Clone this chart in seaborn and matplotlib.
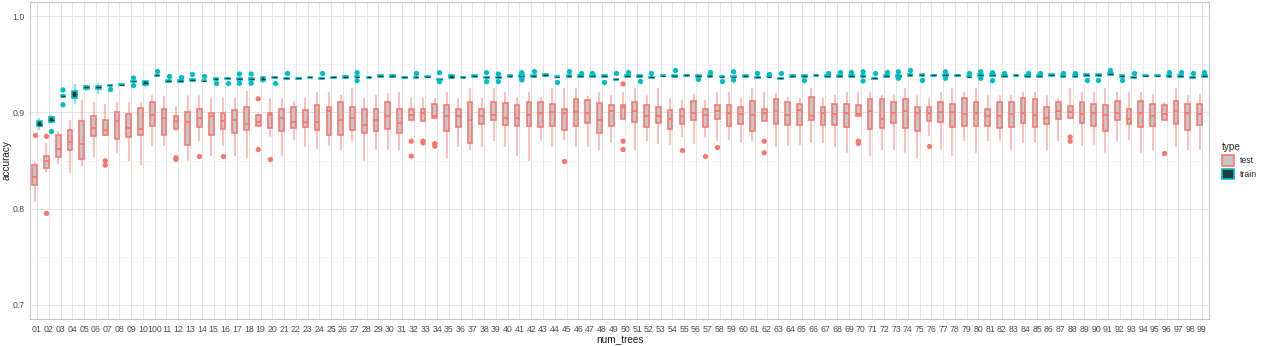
import numpy as np
import pandas as pd
import matplotlib
matplotlib.use("Agg")
import matplotlib.pyplot as plt
import seaborn as sns
from matplotlib.patches import Patch

# categories: num_trees stored as zero-padded strings, ordered lexicographically
num_trees = sorted(f"{n:02d}" for n in range(1, 101))
types = ["test", "train"]

test_lo = [.8070, .8380, .8459, .8366, .8442, .8538, .8755, .8573, .8497, .8452,
           .8648, .8648, .8804, .8497, .8700, .8552, .8655, .8545, .8528, .8855,
           .8745, .8545, .8717, .8642, .8621, .8649, .8614, .8700, .8494, .8614,
           .8614, .8614, .8918, .8911, .8942, .8528, .8642, .8614, .8642, .8701,
           .8642, .8546, .8494, .8701, .8642, .8718, .8642, .8642, .8614, .8683,
           .8935, .8614, .8701, .8676, .8666, .8745, .8676, .8745, .8701, .8718,
           .8683, .8701, .8911, .8642, .8649, .8666, .8683, .8683, .8642, .8580,
           .8963, .8546, .8614, .8614, .8580, .8528, .8752, .8614, .8546, .8701,
           .8580, .8701, .8701, .8614, .8683, .8683, .8614, .8701, .8942, .8656,
           .8666, .8580, .8701, .8711, .8580, .8614, .8921, .8642, .8614, .8614]
test_q1 = [.8249, .8425, .8535, .8607, .8518, .8759, .8762, .8724, .8742, .8769,
           .8855, .8769, .8828, .8666, .8849, .8762, .8828, .8786, .8814, .8862,
           .8838, .8811, .8838, .8849, .8814, .8769, .8766, .8814, .8787, .8804,
           .8828, .8787, .8918, .8911, .8942, .8811, .8845, .8683, .8880, .8918,
           .8873, .8856, .8856, .8845, .8863, .8821, .8863, .8890, .8787, .8863,
           .8935, .8900, .8845, .8890, .8832, .8883, .8921, .8849, .8928, .8856,
           .8880, .8804, .8911, .8883, .8873, .8866, .8918, .8873, .8866, .8845,
           .8963, .8825, .8835, .8890, .8835, .8811, .8911, .8904, .8852, .8856,
           .8856, .8856, .8835, .8845, .8890, .8852, .8880, .8935, .8942, .8890,
           .8863, .8804, .8921, .8880, .8852, .8856, .8921, .8880, .8814, .8873]
test_med = [.8332, .8494, .8621, .8690, .8676, .8842, .8821, .8907, .8838, .8828,
            .8976, .8938, .8907, .8897, .8942, .8966, .8907, .8917, .8883, .8897,
            .8976, .8938, .8897, .8900, .8900, .9011, .8918, .8942, .8873, .8925,
            .8959, .8890, .8973, .8997, .8959, .8959, .8959, .8925, .8959, .8973,
            .8942, .8942, .8973, .8997, .9001, .8997, .9001, .8997, .8925, .9014,
            .9056, .9014, .8959, .8959, .8932, .8959, .8997, .8973, .9014, .8997,
            .8980, .8973, .8997, .9014, .8973, .9021, .8959, .8997, .8980, .8997,
            .8980, .9014, .8935, .8997, .9014, .8997, .8997, .9004, .9004, .8980,
            .8997, .8963, .8963, .8980, .8997, .8973, .8942, .9014, .9004, .8980,
            .8997, .8973, .8997, .8935, .8997, .8963, .8980, .9014, .8997, .8980]
test_q3 = [.8449, .8552, .8766, .8821, .8907, .8959, .8917, .9000, .8983, .9045,
           .9104, .9035, .8966, .9007, .9035, .8993, .8993, .9028, .9062, .8976,
           .8993, .9035, .9062, .9021, .9080, .9062, .9114, .9059, .9031, .9031,
           .9114, .9031, .9031, .9038, .9087, .9080, .9031, .9114, .9031, .9114,
           .9097, .9080, .9104, .9104, .9087, .9031, .9142, .9132, .9097, .9076,
           .9076, .9107, .9076, .9056, .9025, .9031, .9124, .9038, .9080, .9076,
           .9059, .9124, .9038, .9139, .9104, .9087, .9159, .9062, .9087, .9087,
           .9076, .9142, .9142, .9114, .9142, .9059, .9062, .9114, .9090, .9149,
           .9107, .9038, .9114, .9104, .9149, .9142, .9062, .9114, .9069, .9114,
           .9090, .9080, .9124, .9031, .9124, .9090, .9076, .9124, .9090, .9090]
test_hi = [.8483, .8683, .8804, .8924, .9131, .9114, .9090, .9104, .9114, .9114,
           .9183, .9173, .9069, .9183, .9183, .9148, .9148, .9148, .9228, .8993,
           .9148, .9148, .9124, .9149, .9218, .9218, .9183, .9259, .9149, .9183,
           .9201, .9218, .9149, .9149, .9149, .9218, .9149, .9252, .9149, .9252,
           .9218, .9166, .9218, .9166, .9252, .9252, .9252, .9173, .9218, .9183,
           .9218, .9252, .9183, .9252, .9149, .9132, .9190, .9125, .9218, .9218,
           .9149, .9252, .9218, .9201, .9166, .9149, .9252, .9149, .9183, .9218,
           .9218, .9218, .9183, .9183, .9252, .9183, .9149, .9218, .9252, .9218,
           .9252, .9183, .9183, .9183, .9218, .9218, .9183, .9149, .9252, .9218,
           .9218, .9252, .9218, .9218, .9218, .9190, .9114, .9252, .9183, .9190]

train_lo = [.8814, .8883, .9150, .9090, .9221, .9194, .9273, .9278, .9313, .9266,
            .9374, .9316, .9316, .9326, .9319, .9336, .9343, .9336, .9336, .9311,
            .9353, .9343, .9343, .9354, .9344, .9354, .9345, .9361, .9354, .9367,
            .9367, .9354, .9354, .9361, .9331, .9350, .9354, .9367, .9354, .9354,
            .9367, .9367, .9367, .9378, .9361, .9367, .9367, .9367, .9367, .9333,
            .9367, .9367, .9354, .9371, .9367, .9374, .9367, .9367, .9361, .9361,
            .9367, .9354, .9361, .9344, .9366, .9367, .9374, .9367, .9367, .9367,
            .9367, .9344, .9367, .9367, .9378, .9378, .9374, .9378, .9374, .9361,
            .9378, .9378, .9367, .9374, .9367, .9367, .9378, .9367, .9367, .9378,
            .9378, .9388, .9367, .9354, .9371, .9371, .9367, .9367, .9354, .9367]
train_q1 = [.8855, .8897, .9163, .9152, .9245, .9242, .9279, .9284, .9319, .9290,
            .9380, .9322, .9322, .9332, .9325, .9342, .9349, .9342, .9342, .9332,
            .9359, .9349, .9349, .9360, .9350, .9360, .9356, .9367, .9360, .9373,
            .9373, .9360, .9360, .9367, .9338, .9356, .9360, .9373, .9360, .9360,
            .9373, .9373, .9373, .9384, .9367, .9373, .9373, .9373, .9373, .9339,
            .9373, .9373, .9360, .9377, .9373, .9380, .9373, .9373, .9367, .9367,
            .9373, .9360, .9367, .9350, .9373, .9373, .9380, .9373, .9373, .9373,
            .9373, .9350, .9373, .9373, .9384, .9384, .9380, .9384, .9380, .9367,
            .9384, .9384, .9373, .9380, .9373, .9373, .9384, .9373, .9373, .9384,
            .9384, .9394, .9373, .9360, .9377, .9377, .9373, .9373, .9360, .9373]
train_med = [.8873, .8917, .9170, .9194, .9266, .9263, .9285, .9290, .9325, .9310,
             .9386, .9328, .9328, .9338, .9331, .9348, .9355, .9348, .9348, .9349,
             .9365, .9355, .9355, .9366, .9356, .9366, .9366, .9373, .9366, .9379,
             .9379, .9366, .9366, .9373, .9345, .9373, .9366, .9379, .9366, .9366,
             .9379, .9379, .9379, .9390, .9373, .9379, .9379, .9379, .9379, .9345,
             .9379, .9379, .9366, .9383, .9379, .9386, .9379, .9379, .9373, .9373,
             .9379, .9366, .9373, .9356, .9379, .9379, .9386, .9379, .9379, .9379,
             .9379, .9356, .9379, .9379, .9390, .9390, .9386, .9390, .9386, .9373,
             .9390, .9390, .9379, .9386, .9379, .9379, .9390, .9379, .9379, .9390,
             .9390, .9400, .9379, .9366, .9383, .9383, .9379, .9379, .9366, .9379]
train_q3 = [.8907, .8952, .9180, .9221, .9276, .9276, .9291, .9296, .9331, .9325,
            .9392, .9334, .9334, .9344, .9337, .9354, .9361, .9354, .9354, .9366,
            .9371, .9361, .9361, .9372, .9362, .9372, .9376, .9379, .9372, .9385,
            .9385, .9372, .9372, .9379, .9352, .9390, .9372, .9385, .9372, .9372,
            .9385, .9385, .9385, .9396, .9379, .9385, .9385, .9385, .9385, .9351,
            .9385, .9385, .9372, .9389, .9385, .9392, .9385, .9385, .9379, .9379,
            .9385, .9372, .9379, .9362, .9386, .9385, .9392, .9385, .9385, .9385,
            .9385, .9362, .9385, .9385, .9396, .9396, .9392, .9396, .9392, .9379,
            .9396, .9396, .9385, .9392, .9385, .9385, .9396, .9385, .9385, .9396,
            .9396, .9406, .9385, .9372, .9389, .9389, .9385, .9385, .9372, .9385]
train_hi = [.8942, .8976, .9190, .9297, .9290, .9307, .9297, .9302, .9337, .9339,
            .9398, .9340, .9340, .9350, .9343, .9360, .9367, .9360, .9360, .9383,
            .9377, .9367, .9367, .9378, .9368, .9378, .9390, .9385, .9378, .9391,
            .9391, .9378, .9378, .9385, .9359, .9396, .9378, .9391, .9378, .9378,
            .9391, .9391, .9391, .9402, .9385, .9391, .9391, .9391, .9391, .9357,
            .9391, .9391, .9378, .9395, .9391, .9398, .9391, .9391, .9385, .9385,
            .9391, .9378, .9385, .9368, .9393, .9391, .9398, .9391, .9391, .9391,
            .9391, .9368, .9391, .9391, .9402, .9402, .9398, .9402, .9398, .9385,
            .9402, .9402, .9391, .9398, .9391, .9391, .9402, .9391, .9391, .9402,
            .9402, .9412, .9391, .9378, .9395, .9395, .9391, .9391, .9378, .9391]

test_out_cat = ["01", "02", "02", "07", "07", "12", "12", "14", "16", "19", "19", "20",
                "32", "32", "33", "33", "34", "34", "45", "50", "50", "50", "55", "57",
                "58", "62", "62", "70", "70", "76", "88", "88", "96"]
test_out_acc = [.8766, .8752, .7949, .8497, .8452, .8528, .8511, .8545, .8545, .9142, .8614, .8511,
                .8701, .8546, .8701, .8683, .8676, .8649, .8494, .9297, .8701, .8614, .8614, .8546,
                .8642, .8701, .8580, .8701, .8676, .8656, .8745, .8701, .8573]

train_out_cat = ["02", "03", "03", "07", "09", "09", "100", "11", "12", "13", "14", "15", "16",
                 "17", "17", "18", "18", "20", "21", "24", "27", "27", "32", "34", "34",
                 "38", "38", "39", "39", "41", "41", "41", "41", "42", "44", "45", "46", "47",
                 "48", "49", "50", "51", "52", "54", "56", "57", "58", "59", "59", "61", "62",
                 "63", "65", "67", "68", "69", "70", "70", "71", "72", "73", "73", "74", "75",
                 "77", "77", "79", "80", "80", "81", "81", "82", "84", "85", "87", "88", "89",
                 "90", "91", "92", "93", "96", "97", "98", "99"]
train_out_acc = [.8804, .9235, .9080, .9245, .9359, .9280, .9428, .9383, .9365, .9403, .9383, .9304, .9311,
                 .9400, .9304, .9400, .9304, .9304, .9407, .9411, .9414, .9331, .9414, .9414, .9321,
                 .9414, .9321, .9400, .9321, .9414, .9400, .9345, .9338, .9435, .9321, .9435, .9414, .9414,
                 .9321, .9414, .9424, .9331, .9414, .9442, .9345, .9424, .9331, .9424, .9338, .9414, .9400,
                 .9407, .9338, .9414, .9424, .9424, .9424, .9328, .9407, .9424, .9424, .9356, .9442, .9338,
                 .9424, .9356, .9414, .9424, .9356, .9414, .9331, .9414, .9414, .9414, .9414, .9414, .9338,
                 .9338, .9442, .9338, .9414, .9424, .9424, .9414, .9424]

# ---- tidy frames ----
stats = {"test": (test_lo, test_q1, test_med, test_q3, test_hi),
         "train": (train_lo, train_q1, train_med, train_q3, train_hi)}
rows = []
for t in types:
    for arr in stats[t]:
        for c, v in zip(num_trees, arr):
            rows.append((c, t, v))
df = pd.DataFrame(rows, columns=["num_trees", "type", "accuracy"])
out_df = pd.DataFrame(
    [(c, "test", v) for c, v in zip(test_out_cat, test_out_acc)] +
    [(c, "train", v) for c, v in zip(train_out_cat, train_out_acc)],
    columns=["num_trees", "type", "accuracy"])

# ---- styling ----
sns.set_theme(style="white")
plt.rcParams["font.family"] = ["Liberation Sans", "DejaVu Sans"]

edge = {"test": "#F8766D", "train": "#00BFC4"}
fill = {"test": "#C6C6C6", "train": "#1E3C3D"}
median_col = {"test": "#F8766D", "train": "#123E40"}
median_lw = {"test": 1.3, "train": 0.8}

W, H = 1266, 346
fig = plt.figure(figsize=(W / 100, H / 100), dpi=100)
ax = fig.add_axes([30 / W, 1 - 319 / H, (1209 - 30) / W, (319 - 2) / H])

for t in types:
    sub = df[df["type"] == t]
    sns.boxplot(data=sub, x="num_trees", y="accuracy", hue="type",
                order=num_trees, hue_order=types, dodge=True, width=0.8, gap=0,
                whis=(0, 100), showfliers=False, palette=fill,
                linecolor=edge[t], linewidth=1.15, legend=False, ax=ax,
                whiskerprops=dict(color=edge[t], alpha=0.55, linewidth=1.2),
                capprops=dict(visible=False),
                medianprops=dict(color=median_col[t], linewidth=median_lw[t]),
                boxprops=dict(edgecolor=edge[t]))

sns.stripplot(data=out_df, x="num_trees", y="accuracy", hue="type",
              order=num_trees, hue_order=types, dodge=True, jitter=False,
              palette=edge, size=3.8, linewidth=0, legend=False, ax=ax)

# axes limits / ticks
ax.set_xlim(-0.6, len(num_trees) - 0.4)
ax.set_ylim(0.685, 1.015)
ax.set_xticks(range(len(num_trees)))
ax.set_xticklabels(num_trees)
ax.set_yticks([0.7, 0.8, 0.9, 1.0])
ax.set_yticklabels(["0.7", "0.8", "0.9", "1.0"])
ax.set_yticks([0.75, 0.85, 0.95], minor=True)
ax.tick_params(axis="both", which="major", labelsize=6.3, colors="#4D4D4D",
               length=2.5, width=0.6, pad=1.5)
ax.tick_params(axis="both", which="minor", length=0)
for lab in ax.get_xticklabels() + ax.get_yticklabels():
    lab.set_color("#4D4D4D")

ax.set_axisbelow(True)
ax.grid(True, which="major", color="#E3E3E3", linewidth=0.7)
ax.grid(True, which="minor", axis="y", color="#F2F2F2", linewidth=0.5)
for s in ax.spines.values():
    s.set_visible(True)
    s.set_color("#B8B8B8")
    s.set_linewidth(0.6)

ax.set_xlabel("num_trees", fontsize=7.2, color="#1A1A1A", labelpad=1)
ax.set_ylabel("accuracy", fontsize=7.2, color="#1A1A1A")
ax.yaxis.set_label_coords(-(30 - 12) / 1179, 0.5)

handles = [Patch(facecolor=fill[t], edgecolor=edge[t], linewidth=1.2, label=t) for t in types]
leg = ax.legend(handles=handles, title="type", loc="center left",
                bbox_to_anchor=(1.008, 0.5), frameon=False, fontsize=6.3,
                title_fontsize=7.2, handlelength=1.4, handleheight=1.4,
                handletextpad=0.6, labelspacing=0.35, borderaxespad=0)
leg._legend_box.align = "left"

fig.savefig("out.png", dpi=100)
